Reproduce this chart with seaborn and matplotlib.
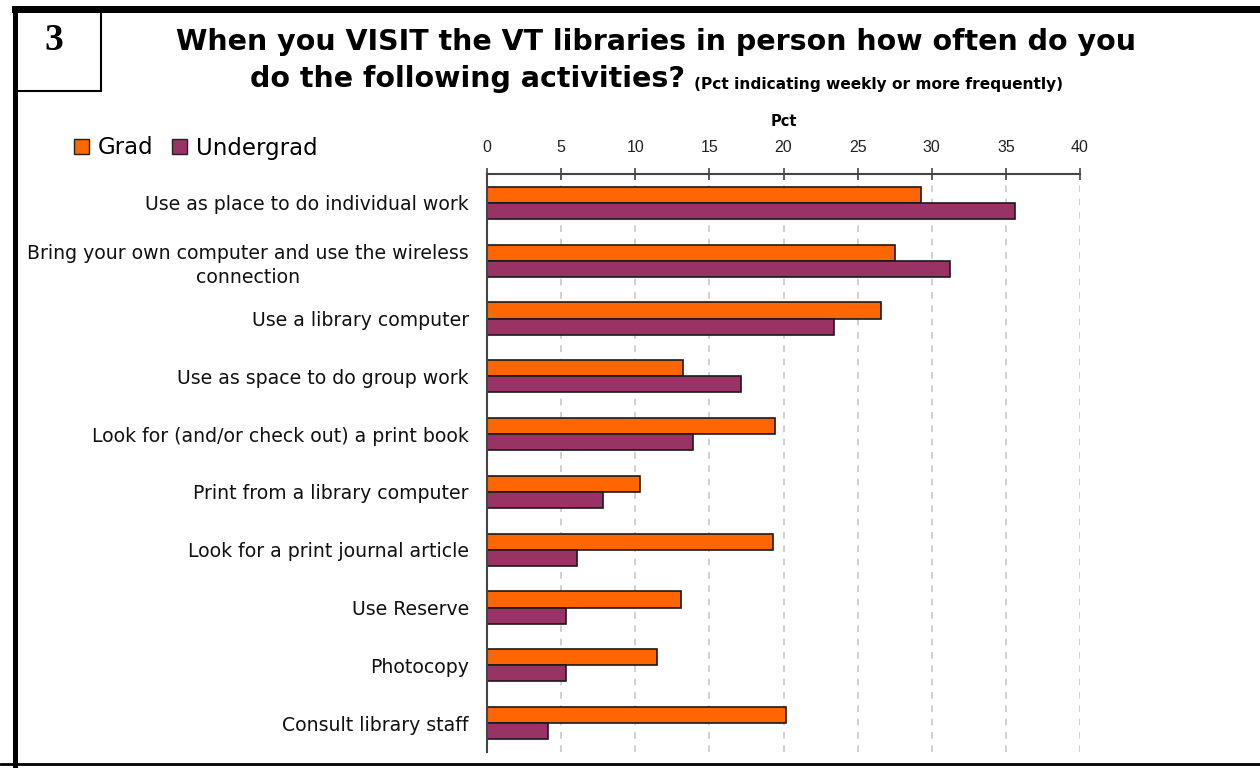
import numpy as np
import pandas as pd
import matplotlib
matplotlib.use('Agg')
import matplotlib.pyplot as plt
import seaborn as sns
from matplotlib.patches import Rectangle, Patch
from matplotlib.lines import Line2D

# ------------------------------------------------------------
# data
# ------------------------------------------------------------
activities = [
    'Use as place to do individual work',
    'Bring your own computer and use the wireless\nconnection',
    'Use a library computer',
    'Use as space to do group work',
    'Look for (and/or check out) a print book',
    'Print from a library computer',
    'Look for a print journal article',
    'Use Reserve',
    'Photocopy',
    'Consult library staff',
]
grad_pct = [29.3, 27.5, 26.6, 13.2, 19.4, 10.3, 19.3, 13.1, 11.5, 20.2]
undergrad_pct = [35.6, 31.2, 23.4, 17.1, 13.9, 7.8, 6.1, 5.3, 5.3, 4.1]
groups = ['Grad', 'Undergrad']
colors = ['#FF6600', '#993366']
x_ticks = [0, 5, 10, 15, 20, 25, 30, 35, 40]

df = pd.DataFrame({
    'activity': activities * 2,
    'pct': grad_pct + undergrad_pct,
    'group': [groups[0]] * len(activities) + [groups[1]] * len(activities),
})

# ------------------------------------------------------------
# plot
# ------------------------------------------------------------
sns.set_style('white')
plt.rcParams['font.family'] = ['DejaVu Sans']
plt.rcParams['text.color'] = 'black'
plt.rcParams['axes.labelcolor'] = 'black'

fig = plt.figure(figsize=(12.6, 7.68), dpi=100)
ax = fig.add_axes([487 / 1260, 1 - 752 / 768, 593 / 1260, 578 / 768])

sns.barplot(data=df, y='activity', x='pct', hue='group', orient='h',
            palette=colors, saturation=1, edgecolor='#1a1a1a', linewidth=1.2,
            width=0.56, order=activities, hue_order=groups, ax=ax,
            legend=False)

ax.set_xlim(0, 40)
ax.set_ylim(len(activities) - 0.5, -0.5)

# x axis on top
ax.xaxis.tick_top()
ax.xaxis.set_label_position('top')
ax.set_xticks(x_ticks)
ax.set_xticklabels([str(t) for t in x_ticks], fontsize=11.5, color='#222222',
                   family=['Liberation Sans', 'DejaVu Sans'])
ax.tick_params(axis='x', direction='inout', length=8, width=1.2, color='#444444', pad=10)
ax.set_xlabel('Pct', fontsize=10.5, fontweight='bold', labelpad=10)

# dashed vertical grid
for t in x_ticks[1:]:
    ax.axvline(t, color='#c8c8c8', linestyle=(0, (4, 4)), linewidth=1.2, zorder=0)

# y axis labels and boundary ticks
ax.set_ylabel('')
ax.set_yticks(range(len(activities)))
ax.set_yticklabels(activities, fontsize=13.6, color='#111111',
                   multialignment='center', linespacing=1.35)
ax.tick_params(axis='y', length=0, pad=13)
ax.set_yticks(np.arange(-0.5, len(activities), 1.0), minor=True)
ax.tick_params(axis='y', which='minor', direction='out', length=6, width=1.2, color='#444444')

for side in ['right', 'bottom']:
    ax.spines[side].set_visible(False)
for side in ['left', 'top']:
    ax.spines[side].set_color('#444444')
    ax.spines[side].set_linewidth(1.5)

# legend
handles = [Patch(facecolor=c, edgecolor='#222222', label=g) for c, g in zip(colors, groups)]
fig.legend(handles=handles, loc='center left', bbox_to_anchor=(74 / 1260, 1 - 148 / 768),
           ncol=2, frameon=False, fontsize=16.5, handlelength=0.65, handleheight=0.65,
           handletextpad=0.4, columnspacing=0.8, borderaxespad=0, borderpad=0)

# title
fig.text(656 / 1260, 1 - 42 / 768,
         'When you VISIT the VT libraries in person how often do you',
         ha='center', va='center', fontsize=20.5, fontweight='bold')
fig.text(250 / 1260, 1 - 79 / 768, 'do the following activities?',
         ha='left', va='center', fontsize=20.5, fontweight='bold')
fig.text(694 / 1260, 1 - 84 / 768, '(Pct indicating weekly or more frequently)',
         ha='left', va='center', fontsize=11.1, fontweight='bold')

# frame and number box
fig.patches.append(Rectangle((12 / 1260, 1 - 13 / 768), 1248 / 1260, 7 / 768,
                             transform=fig.transFigure, facecolor='black', edgecolor='none'))
fig.patches.append(Rectangle((13 / 1260, 0), 5 / 1260, 1 - 7 / 768,
                             transform=fig.transFigure, facecolor='black', edgecolor='none'))
fig.lines.append(Line2D([0, 1], [1 - 764 / 768] * 2, transform=fig.transFigure,
                        color='black', linewidth=2))
fig.lines.append(Line2D([101 / 1260] * 2, [1 - 13 / 768, 1 - 91 / 768],
                        transform=fig.transFigure, color='black', linewidth=1.5))
fig.lines.append(Line2D([16 / 1260, 101 / 1260], [1 - 91 / 768] * 2,
                        transform=fig.transFigure, color='black', linewidth=1.5))
fig.text(54 / 1260, 1 - 41 / 768, '3', ha='center', va='center', fontsize=27,
         fontweight='bold', family=['Liberation Serif', 'DejaVu Serif'])

fig.savefig('out.png', dpi=100)
